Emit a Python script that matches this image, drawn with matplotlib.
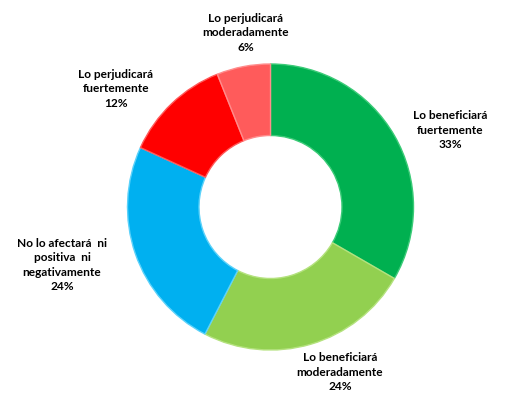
import matplotlib
matplotlib.use("Agg")
import matplotlib.pyplot as plt

categories = ["Lo beneficiará\nfuertemente", "Lo beneficiará\nmoderadamente",
              "No lo afectará  ni\npositiva  ni\nnegativamente",
              "Lo perjudicará\nfuertemente", "Lo perjudicará\nmoderadamente"]
values = [33, 24, 24, 12, 6]
colors = ["#00B050", "#92D050", "#00B0F0", "#FF0000", "#FF5B5B"]
edge_colors = ["#3CCB78", "#B4E27E", "#5CD2FA", "#FF5A5A", "#FF8C8C"]
label_pos = [(450, 130), (340, 372), (62, 265), (116, 89), (246, 33)]

W, H = 523, 398
fig = plt.figure(figsize=(W / 100, H / 100), dpi=100)
ax = fig.add_axes([0, 0, 1, 1])
ax.set_xlim(0, W)
ax.set_ylim(0, H)
ax.set_aspect("equal")
ax.axis("off")

cx, cy, r = 270.5, H - 207, 143
wedges, _ = ax.pie(values, colors=colors, startangle=90, counterclock=False,
                   center=(cx, cy), radius=r, frame=True,
                   wedgeprops=dict(width=r * 0.5, linewidth=1.0))
for w, ec in zip(wedges, edge_colors):
    w.set_edgecolor(ec)
ax.set_xlim(0, W)
ax.set_ylim(0, H)
ax.axis("off")

total = sum(values)
for cat, v, (x, y) in zip(categories, values, label_pos):
    txt = f"{cat}\n{round(v / total * 100)}%"
    ax.text(x, H - y, txt, ha="center", va="center", fontsize=8.6,
            fontweight="bold", family="Lato", linespacing=1.35, color="black")

fig.savefig("out.png", dpi=100)
